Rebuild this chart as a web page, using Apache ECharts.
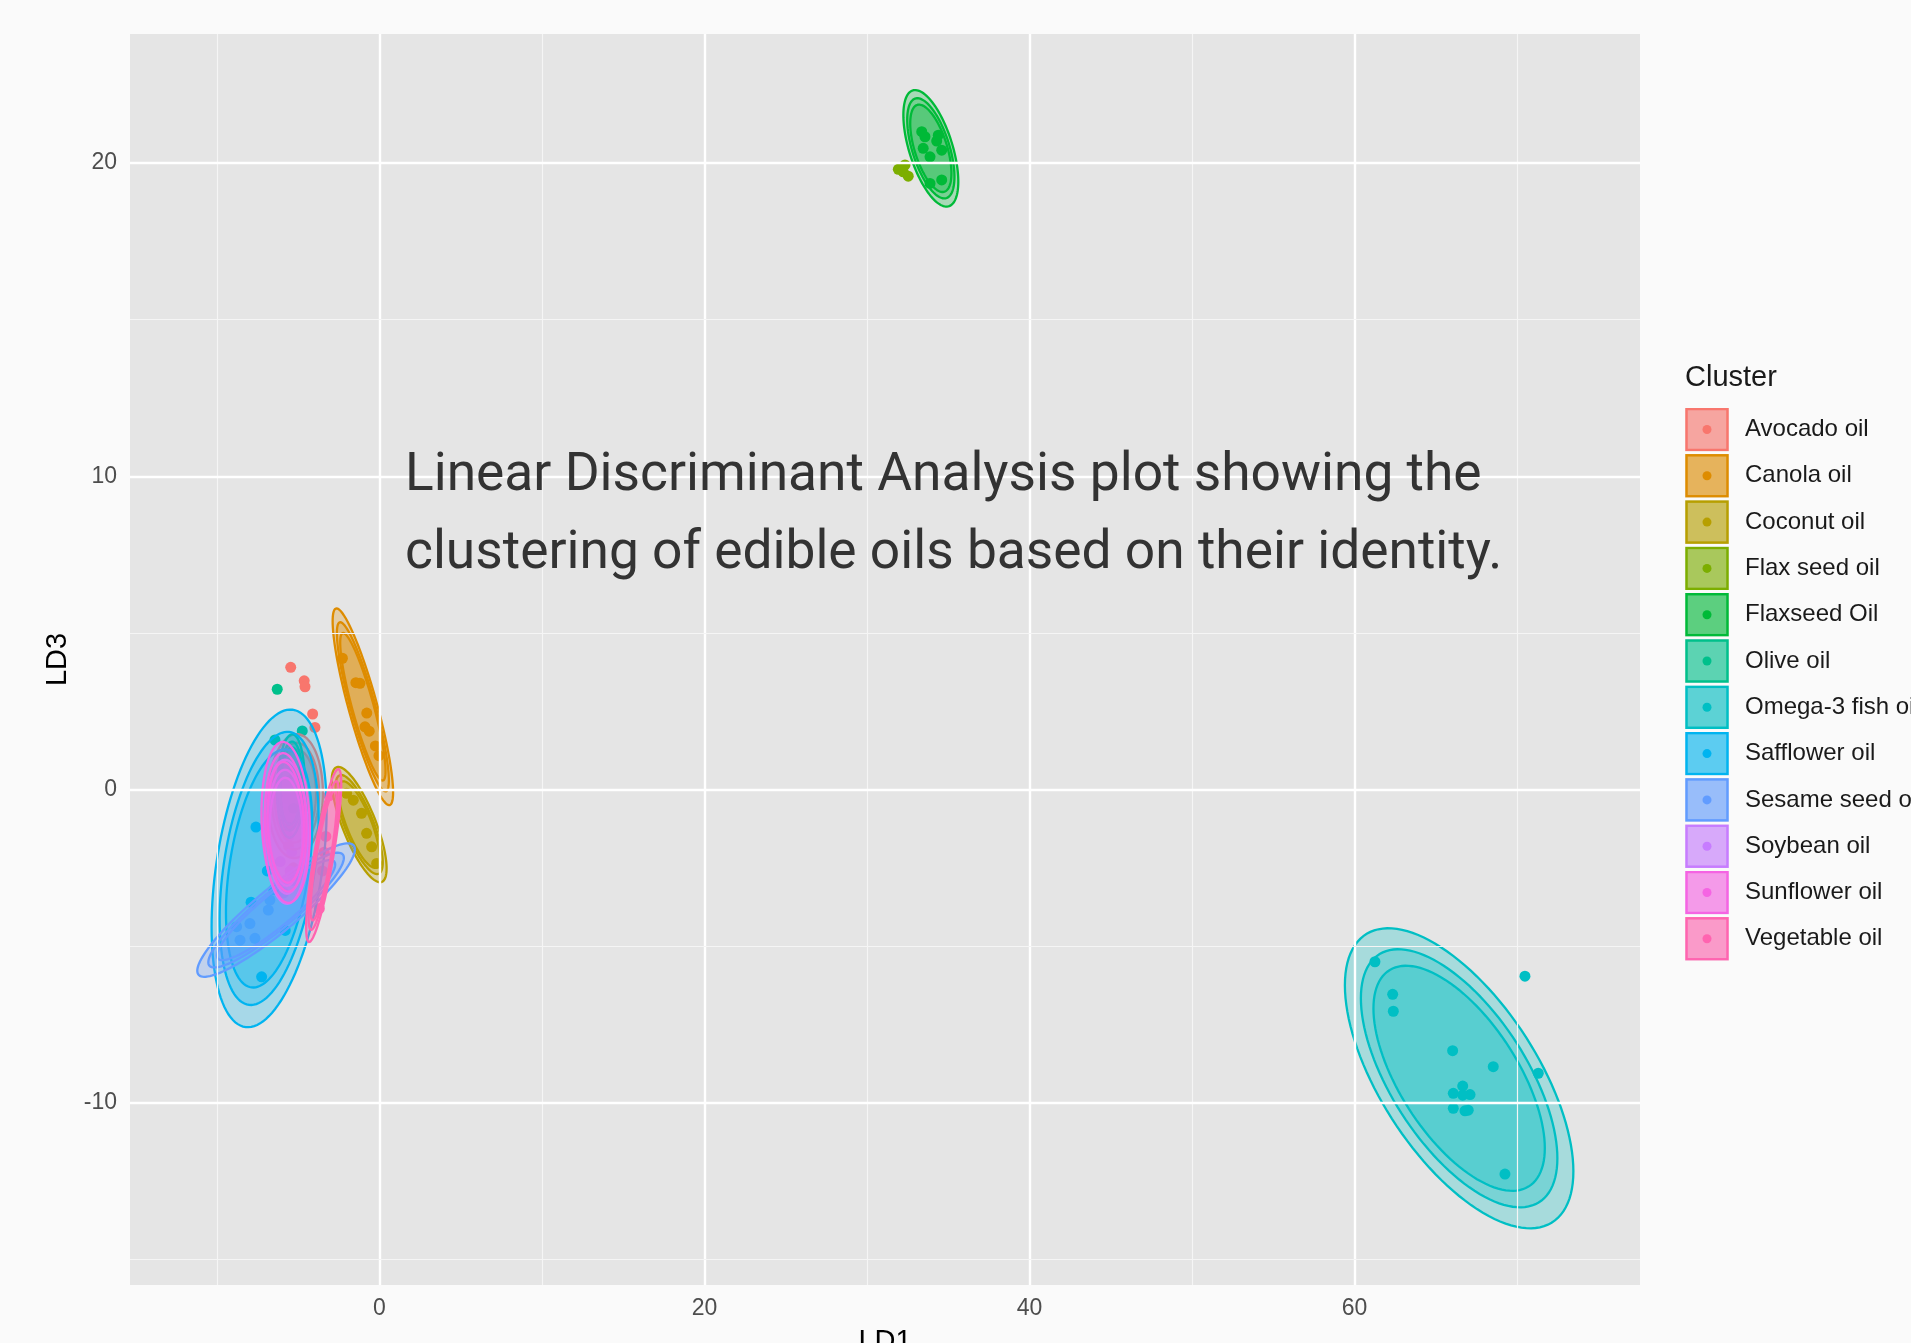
<!DOCTYPE html>
<html>
<head>
<meta charset="utf-8">
<script src="https://cdn.jsdelivr.net/npm/echarts@6/dist/echarts.min.js"></script>
<style>
html,body{margin:0;padding:0;background:#fafafa;}
#chart{width:1911px;height:1343px;}
</style>
</head>
<body>
<div id="chart"></div>
<script>
// ---- Data ----
const clusters = ['Avocado oil','Canola oil','Coconut oil','Flax seed oil','Flaxseed Oil','Olive oil','Omega-3 fish oil','Safflower oil','Sesame seed oil','Soybean oil','Sunflower oil','Vegetable oil'];
const colors = ['#F8766D','#DE8C00','#B79F00','#7CAE00','#00BA38','#00C08B','#00BFC4','#00B4F0','#619CFF','#C77CFF','#F564E3','#FF64B0'];

// points [LD1, LD3]
const avocadoPts = [[-5.46,3.90],[-4.63,3.47],[-4.58,3.28],[-4.11,2.41],[-3.97,1.98],[-5.0,-0.6],[-5.6,-1.8],[-5.3,-2.5]];
const canolaPts = [[-2.28,4.19],[-1.45,3.41],[-1.2,3.39],[-0.78,2.44],[-0.89,2.0],[-0.63,1.86],[-0.25,1.39],[-0.03,1.08]];
const coconutPts = [[-2.02,-0.12],[-1.61,-0.34],[-1.10,-0.76],[-0.79,-1.40],[-0.48,-1.83],[-0.17,-2.36]];
const flaxPts = [[31.93,19.80],[32.34,19.94],[32.54,19.58],[32.23,19.72]];
const flaxseedPts = [[33.37,21.0],[33.57,20.84],[34.39,20.89],[33.46,20.47],[33.88,20.2],[34.6,20.41],[33.88,19.35],[34.6,19.46],[34.29,20.7]];
const olivePts = [[-6.29,3.20],[-4.75,1.87],[-6.43,1.58],[-5.5,0.5],[-5.3,-0.6],[-5.6,-1.2]];
const omegaPts = [[61.26,-5.50],[70.49,-5.96],[62.35,-6.54],[62.39,-7.08],[66.04,-8.34],[68.54,-8.85],[71.31,-9.06],[66.66,-9.47],[66.08,-9.70],[67.11,-9.74],[66.66,-9.76],[66.08,-10.18],[66.8,-10.26],[67.0,-10.24],[69.26,-12.28]];
const safflowerPts = [[-7.25,-5.98],[-7.6,-1.2],[-6.9,-2.6],[-6.2,-0.3],[-7.9,-3.6],[-5.8,-4.5],[-6.5,-3.2]];
const sesamePts = [[-8.79,-4.38],[-7.97,-4.28],[-8.58,-4.81],[-7.66,-4.75],[-6.84,-3.85],[-6.74,-3.53],[-5.3,-2.9]];
const soybeanPts = [[-5.9,-0.4],[-5.6,-1.5],[-6.1,-2.3],[-5.4,-2.0],[-5.8,0.6]];
const sunflowerPts = [[-5.7,0.8],[-6.0,-1.0],[-5.5,-2.6],[-5.9,-3.3],[-5.6,-0.3]];
const vegetablePts = [[-3.1,-0.2],[-3.3,-1.5],[-3.5,-2.6],[-3.7,-3.8],[-3.4,-2.0]];
const pointSets = [avocadoPts,canolaPts,coconutPts,flaxPts,flaxseedPts,olivePts,omegaPts,safflowerPts,sesamePts,soybeanPts,sunflowerPts,vegetablePts];

// ellipse parameters: [centerLD1, centerLD3, halfExtentLD1, halfExtentLD3, correlation]
const ellipseParams = [
  [-5.17,-0.21,1.69,1.98,0.05],
  [-1.02,2.64,1.86,3.14,-0.87],
  [-1.25,-1.12,1.69,1.84,-0.76],
  null,
  [33.93,20.47,1.69,1.86,-0.57],
  [-5.45,0.11,0.85,1.65,0.1],
  [66.44,-9.22,7.03,4.79,-0.62],
  [-6.79,-2.52,3.54,5.07,0.37],
  [-6.36,-3.85,4.85,2.13,0.91],
  [-5.75,-1.35,1.35,2.3,-0.05],
  [-5.77,-1.05,1.49,2.57,-0.12],
  [-3.43,-2.11,1.08,2.76,0.83]
];
const ellipseLevels = [1, 0.86, 0.75];

const xTicks = [0,20,40,60];
const xMinor = [-10,10,30,50,70];
const yTicks = [-10,0,10,20];
const yMinor = [-15,-5,5,15];

// ---- helpers ----
function rgba(hex, a){
  const n = parseInt(hex.slice(1),16);
  return 'rgba(' + ((n>>16)&255) + ',' + ((n>>8)&255) + ',' + (n&255) + ',' + a + ')';
}
function legendIcon(c){
  const svg = '<svg xmlns="http://www.w3.org/2000/svg" width="44" height="44">' +
    '<rect x="0" y="0" width="44" height="44" fill="#f2f2f2"/>' +
    '<rect x="1.5" y="1.5" width="41" height="41" fill="' + c + '" fill-opacity="0.62" stroke="' + c + '" stroke-width="2.5"/>' +
    '<circle cx="22" cy="22" r="4.5" fill="' + c + '"/></svg>';
  return 'image://data:image/svg+xml;charset=utf-8,' + encodeURIComponent(svg);
}

const series = [];
// grid lines (through axis scales)
series.push({
  type: 'scatter', data: [], z: 1, silent: true,
  markLine: {
    silent: true, symbol: 'none', animation: false, label: {show: false},
    data: [].concat(
      xTicks.map(v => ({xAxis: v, lineStyle: {color: '#ffffff', width: 2.4, type: 'solid'}})),
      xMinor.map(v => ({xAxis: v, lineStyle: {color: '#f5f5f5', width: 1.2, type: 'solid'}})),
      yTicks.map(v => ({yAxis: v, lineStyle: {color: '#ffffff', width: 2.4, type: 'solid'}})),
      yMinor.map(v => ({yAxis: v, lineStyle: {color: '#f5f5f5', width: 1.2, type: 'solid'}}))
    )
  }
});

clusters.forEach((name, i) => {
  series.push({
    name: name, type: 'scatter', z: 2,
    symbolSize: 11,
    itemStyle: {color: colors[i], opacity: 1},
    data: pointSets[i],
    animation: false
  });
});

clusters.forEach((name, i) => {
  const p = ellipseParams[i];
  if (!p) return;
  series.push({
    name: name, type: 'custom', z: 3, clip: true,
    encode: {x: 0, y: 1},
    data: ellipseLevels.map(s => [p[0], p[1], s]),
    renderItem: function(params, api){
      const s = api.value(2);
      const sx = p[2]*s, sy = p[3]*s, r = p[4];
      const q = Math.sqrt(1 - r*r);
      const pts = [];
      for (let k = 0; k < 120; k++){
        const t = k/120*2*Math.PI;
        const x = p[0] + sx*Math.cos(t);
        const y = p[1] + sy*(r*Math.cos(t) + q*Math.sin(t));
        pts.push(api.coord([x, y]));
      }
      return {
        type: 'polygon',
        shape: {points: pts},
        style: {fill: rgba(colors[i], 0.27), stroke: colors[i], lineWidth: 2.3}
      };
    },
    animation: false
  });
});

const chart = echarts.init(document.getElementById('chart'), null, {renderer: 'canvas'});
chart.setOption({
  backgroundColor: '#fafafa',
  animation: false,
  title: [
    {
      text: 'Linear Discriminant Analysis plot showing the\nclustering of edible oils based on their identity.',
      left: 405, top: 437.6, padding: 0,
      textStyle: {fontFamily: 'Roboto', fontSize: 53.3, fontWeight: 'normal', color: '#333333', lineHeight: 78}
    },
    {
      text: 'Cluster', left: 1685, top: 360.5, padding: 0,
      textStyle: {fontFamily: 'Liberation Sans', fontSize: 29, fontWeight: 'normal', color: '#1a1a1a', lineHeight: 34}
    }
  ],
  legend: {
    orient: 'vertical', left: 1685, top: 407.5,
    itemWidth: 44, itemHeight: 44, itemGap: 2.3,
    padding: 0,
    selectedMode: false,
    textStyle: {fontFamily: 'Liberation Sans', fontSize: 24, color: '#1a1a1a', padding: [0,0,0,11]},
    data: clusters.map((n, i) => ({name: n, icon: legendIcon(colors[i])}))
  },
  grid: {left: 130, right: 271, top: 34, bottom: 58, show: true, backgroundColor: '#e5e5e5', borderWidth: 0, containLabel: false, outerBoundsMode: 'none'},
  xAxis: {
    type: 'value', min: -15.35, max: 77.57,
    name: 'LD1', nameLocation: 'middle', nameGap: 42,
    nameTextStyle: {fontFamily: 'Liberation Sans', fontSize: 29, color: '#000'},
    axisLine: {show: false},
    splitLine: {show: false},
    axisTick: {show: true, customValues: xTicks, length: 7, lineStyle: {color: '#333', width: 1.5}},
    axisLabel: {customValues: xTicks, fontFamily: 'Liberation Sans', fontSize: 23, color: '#4d4d4d', margin: 12}
  },
  yAxis: {
    type: 'value', min: -15.82, max: 24.12,
    name: 'LD3', nameLocation: 'middle', nameGap: 58, nameRotate: 90,
    nameTextStyle: {fontFamily: 'Liberation Sans', fontSize: 29, color: '#000'},
    axisLine: {show: false},
    splitLine: {show: false},
    axisTick: {show: true, customValues: yTicks, length: 7, lineStyle: {color: '#333', width: 1.5}},
    axisLabel: {customValues: yTicks, fontFamily: 'Liberation Sans', fontSize: 23, color: '#4d4d4d', margin: 13}
  },
  series: series
});
</script>
</body>
</html>
